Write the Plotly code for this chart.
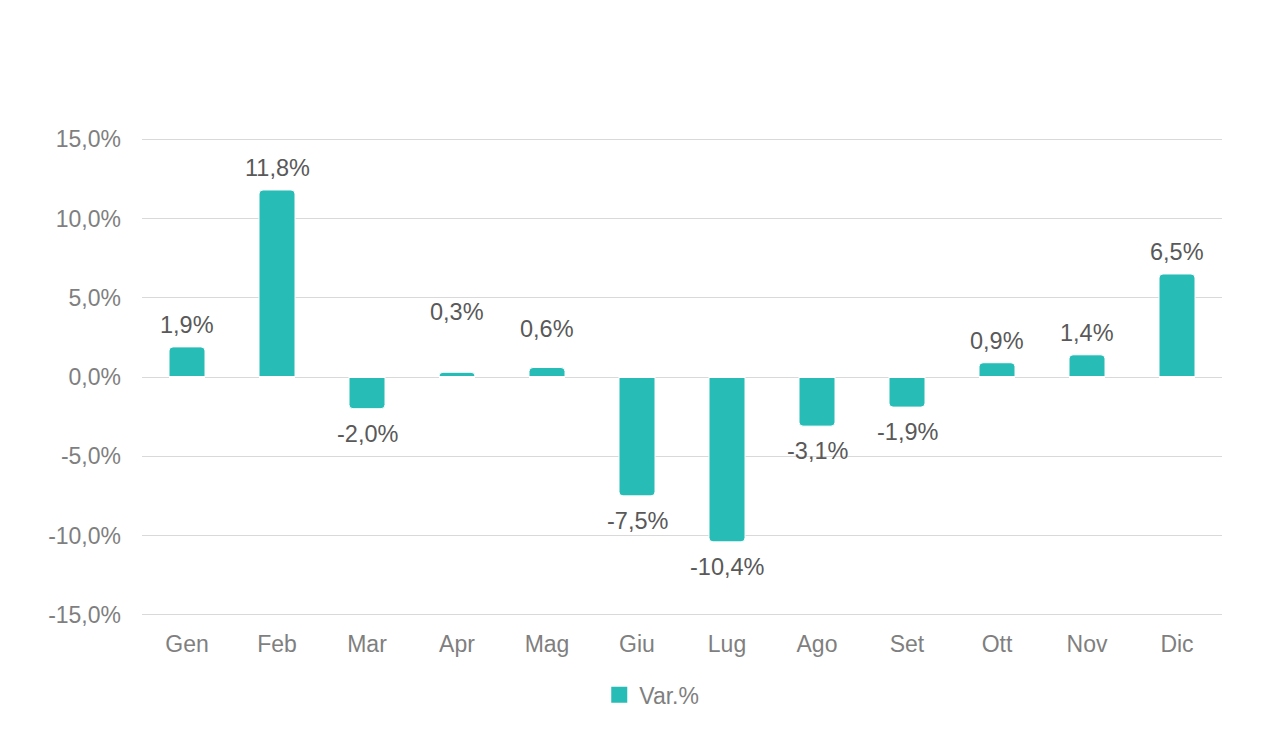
import plotly.graph_objects as go

months = ["Gen", "Feb", "Mar", "Apr", "Mag", "Giu", "Lug", "Ago", "Set", "Ott", "Nov", "Dic"]
var_pct = [1.9, 11.8, -2.0, 0.3, 0.6, -7.5, -10.4, -3.1, -1.9, 0.9, 1.4, 6.5]
y_ticks = [-15, -10, -5, 0, 5, 10, 15]
y_tick_text = ["-15,0%", "-10,0%", "-5,0%", "0,0%", "5,0%", "10,0%", "15,0%"]

# extra vertical offset (px) for labels that were moved in the original
label_shift = {"Apr": 38, "Mag": 16}

teal = "#27BCB6"
FONT = "Liberation Sans, Arial"
fig = go.Figure()
fig.add_trace(go.Bar(
    x=months, y=var_pct, name="Var.%", showlegend=False,
    marker=dict(color=teal, line=dict(color="white", width=1), cornerradius=4),
    width=0.40,
))
# legend swatch
fig.add_trace(go.Scatter(
    x=[None], y=[None], mode="markers", name="Var.%",
    marker=dict(symbol="square", size=18, color=teal),
))

for m, v in zip(months, var_pct):
    shift = (22 + label_shift.get(m, 0)) if v >= 0 else -25
    fig.add_annotation(
        x=m, y=v, text=f"{v:.1f}%".replace(".", ","), showarrow=False,
        yshift=shift,
        font=dict(family=FONT, size=23.5, color="#595959"),
    )

# white gap line across the bars at zero
for i, m in enumerate(months):
    fig.add_shape(type="line", x0=i - 0.2, x1=i + 0.2, y0=0, y1=0,
                  line=dict(color="white", width=2), layer="above")

fig.update_layout(
    width=1261, height=731,
    paper_bgcolor="white", plot_bgcolor="white",
    margin=dict(l=134, r=47, t=130, b=123),
    font=dict(family=FONT, size=23, color="#7F7F7F"),
    showlegend=True,
    legend=dict(orientation="h", x=0.472, xanchor="center", y=-0.12, yanchor="top",
                font=dict(family=FONT, size=23, color="#7F7F7F"), itemwidth=30),
    yaxis=dict(range=[-15.08, 15.08], tickvals=y_ticks, ticktext=y_tick_text,
               showgrid=True, gridcolor="#D9D9D9", gridwidth=1.2, zeroline=False,
               showline=False, ticks="", ticklabelstandoff=20),
    xaxis=dict(showgrid=False, showline=False, ticks="", ticklabelstandoff=12,
               range=[-0.5, 11.5]),
)

fig.write_html("out.html")
